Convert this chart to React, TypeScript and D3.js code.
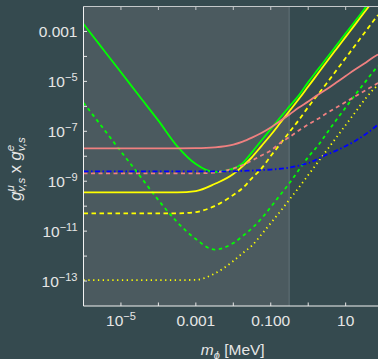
import React, { useEffect, useRef } from 'react';
import * as d3 from 'd3';

// mass grid in MeV, shared by every curve
const masses = [1e-6, 3.16e-6, 1e-5, 3.16e-5, 1e-4, 3.16e-4, 1e-3, 3.16e-3, 1e-2, 1.78e-2, 3.16e-2, 5.62e-2,
  0.1, 0.178, 0.316, 0.562, 1, 1.78, 3.16, 5.62, 10, 17.8, 31.6, 56.2, 73];

const greenSolid = [1.99e-3, 2.15e-4, 2.31e-5, 2.47e-6, 2.67e-7, 2.56e-8, 4.86e-9, 2.33e-9, 3.21e-9, 5.33e-9, 1.47e-8, 4.26e-8,
  1.23e-7, 3.56e-7, 9.9e-7, 2.74e-6, 9.33e-6, 2.88e-5, 8.79e-5, 2.71e-4, 8.36e-4, 2.55e-3, 7.94e-3, 2.43e-2, 4.1e-2];
const greenDashed = [1.39e-6, 1.48e-7, 1.54e-8, 1.68e-9, 1.75e-10, 2.31e-11, 4.8e-12, 1.82e-12, 3.32e-12, 6.34e-12, 1.32e-11, 3.18e-11,
  9.2e-11, 2.79e-10, 8.43e-10, 2.8e-9, 9.29e-9, 2.56e-8, 8.51e-8, 2.83e-7, 8.95e-7, 2.84e-6, 8.59e-6, 2.6e-5, 4.12e-5];
const yellowSolid = [3.57e-10, 3.57e-10, 3.57e-10, 3.57e-10, 3.57e-10, 3.57e-10, 4.03e-10, 7.69e-10, 1.94e-9, 4.05e-9, 9.29e-9, 2.56e-8,
  7.08e-8, 2.14e-7, 6.49e-7, 1.96e-6, 6.22e-6, 1.97e-5, 6.25e-5, 1.95e-4, 6.05e-4, 1.88e-3, 5.86e-3, 1.82e-2, 3.1e-2];
const yellowDashed = [5.14e-11, 5.14e-11, 5.14e-11, 5.14e-11, 5.14e-11, 5.14e-11, 5.81e-11, 1.01e-10, 2.79e-10, 5.31e-10, 1.34e-9, 3.21e-9,
  1.02e-8, 3.08e-8, 9.33e-8, 2.83e-7, 9.38e-7, 2.84e-6, 8.59e-6, 2.72e-5, 8.63e-5, 2.74e-4, 8.67e-4, 2.75e-3, 4.57e-3];
const yellowDotted = [1.09e-13, 1.09e-13, 1.09e-13, 1.09e-13, 1.09e-13, 1.09e-13, 1.12e-13, 1.99e-13, 6.31e-13, 1.32e-12, 2.64e-12, 7.28e-12,
  2.1e-11, 6.08e-11, 1.84e-10, 5.56e-10, 1.76e-9, 5.58e-9, 1.77e-8, 5.61e-8, 1.78e-7, 5.65e-7, 1.79e-6, 4.93e-6, 7.14e-6];
const pinkSolid = [2.07e-8, 2.07e-8, 2.07e-8, 2.07e-8, 2.07e-8, 2.07e-8, 2.1e-8, 2.28e-8, 2.95e-8, 3.88e-8, 5.61e-8, 8.51e-8,
  1.41e-7, 2.58e-7, 4.69e-7, 8.95e-7, 1.56e-6, 2.84e-6, 4.93e-6, 8.99e-6, 1.64e-5, 2.99e-5, 5.19e-5, 9.46e-5, 1.19e-4];
const pinkDashed = [2.07e-9, 2.07e-9, 2.07e-9, 2.07e-9, 2.07e-9, 2.07e-9, 2.07e-9, 2.22e-9, 3.21e-9, 4.44e-9, 6.73e-9, 1.07e-8,
  1.69e-8, 3.38e-8, 5.89e-8, 1.07e-7, 1.87e-7, 3.1e-7, 5.38e-7, 8.95e-7, 1.49e-6, 2.47e-6, 4.1e-6, 6.82e-6, 8.59e-6];
const blueDashDot = [2.48e-9, 2.48e-9, 2.48e-9, 2.48e-9, 2.48e-9, 2.48e-9, 2.48e-9, 2.48e-9, 2.48e-9, 2.6e-9, 2.67e-9, 2.8e-9,
  2.93e-9, 3.16e-9, 3.52e-9, 4.24e-9, 5.33e-9, 7.73e-9, 1.17e-8, 1.69e-8, 2.56e-8, 4.06e-8, 7.08e-8, 1.35e-7, 1.87e-7];

const shadedMax = 0.31;

const xTicks = [1e-5, 1e-4, 1e-3, 1e-2, 0.1, 1, 10];
const xTickLabels = [
  { v: 1e-5, base: '10', exp: '−5' },
  { v: 1e-3, base: '0.001', exp: '' },
  { v: 0.1, base: '0.100', exp: '' },
  { v: 10, base: '10', exp: '' },
];
const yTicks = [1e-13, 1e-12, 1e-11, 1e-10, 1e-9, 1e-8, 1e-7, 1e-6, 1e-5, 1e-4, 1e-3];
const yTickLabels = [
  { v: 1e-3, base: '0.001', exp: '' },
  { v: 1e-5, base: '10', exp: '−5' },
  { v: 1e-7, base: '10', exp: '−7' },
  { v: 1e-9, base: '10', exp: '−9' },
  { v: 1e-11, base: '10', exp: '−11' },
  { v: 1e-13, base: '10', exp: '−13' },
];

const series = [
  { values: greenSolid, color: '#00ff00', dash: null },
  { values: greenDashed, color: '#00ff00', dash: '3.5,3.5' },
  { values: yellowSolid, color: '#ffff00', dash: null },
  { values: yellowDashed, color: '#ffff00', dash: '4.5,3.5' },
  { values: yellowDotted, color: '#ffff00', dash: '1.3,3.5' },
  { values: pinkSolid, color: '#f08080', dash: null },
  { values: pinkDashed, color: '#f08080', dash: '4,3.5' },
  { values: blueDashDot, color: '#0000ff', dash: '5,2.5,1.5,2.5' },
];

const font = 'Liberation Sans, Arial, sans-serif';
const textColor = '#e6e6e6';

export default function App() {
  const ref = useRef<SVGSVGElement>(null);

  useEffect(() => {
    const width = 378, height = 359;
    const margin = { top: 6.5, right: 0, bottom: 53, left: 83.5 };
    const svg = d3.select(ref.current);
    svg.selectAll('*').remove();

    const x = d3.scaleLog().domain([1e-6, 73]).range([margin.left, width - margin.right]);
    const y = d3.scaleLog().domain([1e-14, 1e-2]).range([height - margin.bottom, margin.top]);
    const bottom = height - margin.bottom;

    svg.append('rect').attr('width', width).attr('height', height).attr('fill', '#354a4f');

    // excluded region
    svg.append('rect')
      .attr('x', x(1e-6)).attr('y', margin.top)
      .attr('width', x(shadedMax) - x(1e-6)).attr('height', bottom - margin.top)
      .attr('fill', '#4b5a5f');
    svg.append('line')
      .attr('x1', x(shadedMax)).attr('x2', x(shadedMax))
      .attr('y1', margin.top).attr('y2', bottom)
      .attr('stroke', '#63727a').attr('stroke-width', 1);

    svg.append('clipPath').attr('id', 'plot-clip')
      .append('rect')
      .attr('x', margin.left).attr('y', margin.top)
      .attr('width', width - margin.left).attr('height', bottom - margin.top);

    const line = d3.line<number>()
      .x((d, i) => x(masses[i]))
      .y(d => y(d))
      .curve(d3.curveMonotoneX);

    svg.append('g')
      .attr('clip-path', 'url(#plot-clip)')
      .selectAll('path')
      .data(series)
      .join('path')
      .attr('d', d => line(d.values))
      .attr('fill', 'none')
      .attr('stroke', d => d.color)
      .attr('stroke-width', 1.8)
      .attr('stroke-dasharray', d => d.dash);

    // frame
    const frame = svg.append('g').attr('stroke-width', 1);
    frame.append('line').attr('x1', margin.left).attr('x2', width).attr('y1', margin.top).attr('y2', margin.top).attr('stroke', '#c4c8ca');
    frame.append('line').attr('x1', margin.left).attr('x2', width).attr('y1', bottom).attr('y2', bottom).attr('stroke', '#f2f2f2');
    frame.append('line').attr('x1', margin.left).attr('x2', margin.left).attr('y1', margin.top).attr('y2', bottom).attr('stroke', '#f2f2f2');

    frame.selectAll('.xb').data(xTicks).join('line')
      .attr('x1', d => x(d)).attr('x2', d => x(d))
      .attr('y1', bottom).attr('y2', bottom - 3.5)
      .attr('stroke', '#e8e8e8');
    frame.selectAll('.xt').data(xTicks).join('line')
      .attr('x1', d => x(d)).attr('x2', d => x(d))
      .attr('y1', margin.top).attr('y2', margin.top + 3.5)
      .attr('stroke', '#c4c8ca');
    frame.selectAll('.yl').data(yTicks).join('line')
      .attr('x1', margin.left).attr('x2', margin.left + 3.5)
      .attr('y1', d => y(d)).attr('y2', d => y(d))
      .attr('stroke', '#e8e8e8');

    // tick labels
    const xl = svg.append('g').attr('font-family', font).attr('font-size', 15.5).attr('fill', textColor);
    xTickLabels.forEach(t => {
      const txt = xl.append('text').attr('x', x(t.v)).attr('y', 326).attr('text-anchor', 'middle');
      txt.append('tspan').text(t.base);
      if (t.exp) txt.append('tspan').attr('font-size', 11).attr('dy', -6).text(t.exp);
    });
    const yl = svg.append('g').attr('font-family', font).attr('font-size', 15.5).attr('fill', textColor);
    yTickLabels.forEach(t => {
      const txt = yl.append('text').attr('x', 77.5).attr('y', y(t.v) + 5.5).attr('text-anchor', 'end');
      txt.append('tspan').text(t.base);
      if (t.exp) txt.append('tspan').attr('font-size', 11).attr('dy', -6).text(t.exp);
    });

    // axis titles
    const xt = svg.append('text')
      .attr('x', (margin.left + width) / 2 + 2).attr('y', 355)
      .attr('text-anchor', 'middle').attr('font-family', font).attr('font-size', 15.5).attr('fill', textColor);
    xt.append('tspan').attr('font-style', 'italic').text('m');
    xt.append('tspan').attr('font-style', 'italic').attr('font-size', 11).attr('dy', 3.5).text('ϕ');
    xt.append('tspan').attr('dy', -3.5).text(' [MeV]');

    const yt = svg.append('text')
      .attr('transform', 'translate(21,169) rotate(-90)')
      .attr('text-anchor', 'middle').attr('font-family', font).attr('font-size', 16.5).attr('fill', textColor);
    yt.append('tspan').attr('font-style', 'italic').text('g');
    yt.append('tspan').attr('font-style', 'italic').attr('font-size', 11.5).attr('dy', -7).text('μ');
    yt.append('tspan').attr('font-style', 'italic').attr('font-size', 11.5).attr('dx', -6.5).attr('dy', 10.5).text('v,s');
    yt.append('tspan').attr('dy', -3.5).text(' x ');
    yt.append('tspan').attr('font-style', 'italic').text('g');
    yt.append('tspan').attr('font-style', 'italic').attr('font-size', 11.5).attr('dy', -7).text('e');
    yt.append('tspan').attr('font-style', 'italic').attr('font-size', 11.5).attr('dx', -6.4).attr('dy', 10.5).text('v,s');
  }, []);

  return (
    <svg ref={ref} width={378} height={359}
      style={{ position: 'absolute', left: 0, top: 0, display: 'block' }} />
  );
}
